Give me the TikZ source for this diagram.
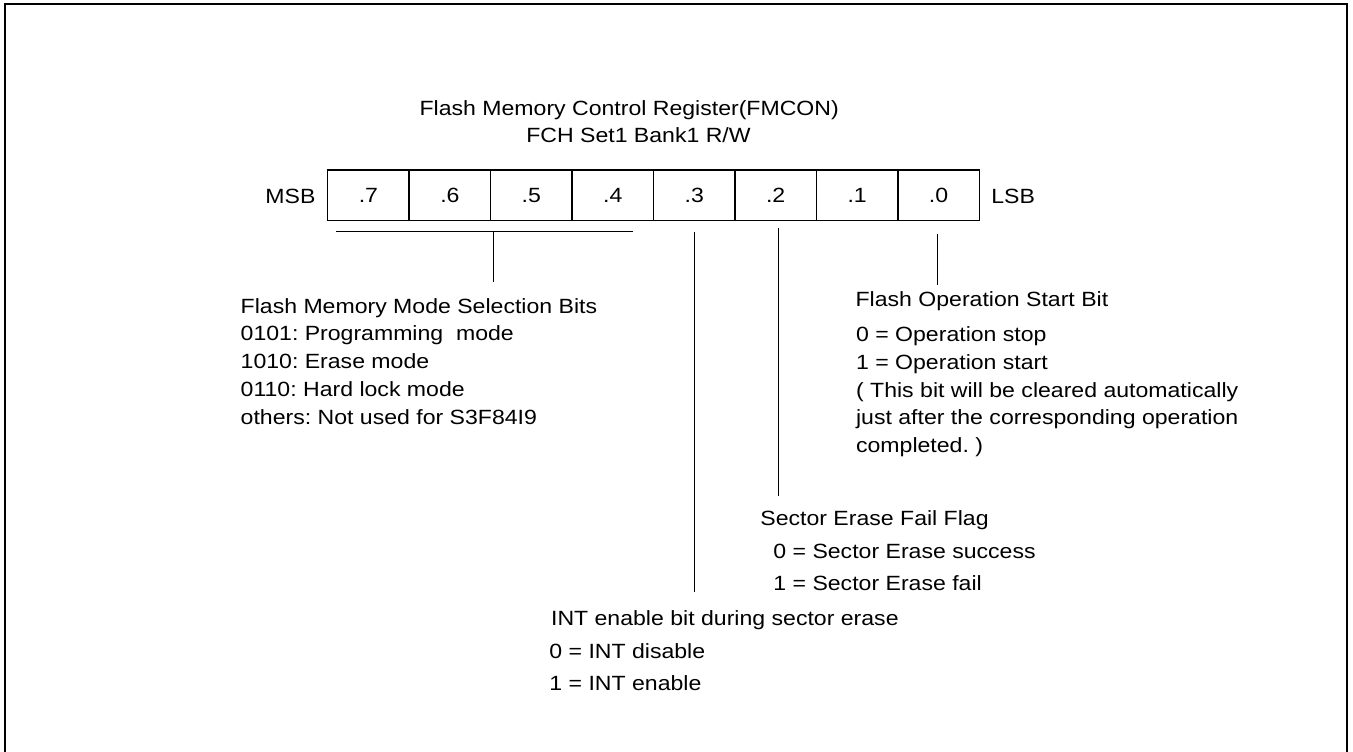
\documentclass[tikz,border=0pt]{standalone}
\usepackage{fontspec}
\setmainfont{Liberation Sans}[FakeStretch=1.12]
\usetikzlibrary{math}
\frenchspacing

\begin{document}
\begin{tikzpicture}[x=0.5pt,y=-0.5pt,
  every node/.style={font=\fontsize{10.3pt}{12pt}\selectfont, inner sep=0pt},
  txt/.style={anchor=base west},
  cell/.style={draw, line width=0.75pt, minimum width=40.725pt, minimum height=25.35pt},
  lead/.style={line width=0.75pt}]
\tikzmath{
\W=81.45;
\xL=327.7;
\yT=170;
\yB=220.7;
\dy=27.75;
}
\useasboundingbox (0,0) rectangle (1353,751);
%frame
\draw[line width=1pt] (5,4.3) rectangle (1347.2,770);

%title
\node[anchor=base] (title) at (629.2,115) {Flash Memory Control Register(FMCON)};
\node[anchor=base] (addr) at (638.5,142.7) {FCH Set1 Bank1 R/W};

%register
\foreach \k in {7,...,0}{
  \node[cell] (c\k) at ({\xL+\W*(7-\k)+\W/2},{(\yT+\yB)/2}) {.\k};
}
\node[txt] (msb) at (265,203.3) {MSB};
\node[txt] (lsb) at (991,203.3) {LSB};

%leads
\coordinate (m7) at (336,231.7);
\coordinate (m4) at (632.7,231.7);
\coordinate (mTop) at (493.5,231.7);
\coordinate (mEnd) at (493.5,281.7);
\draw[lead] (m7) -- (m4);
\draw[lead] (mTop) -- (mEnd);
\coordinate (i3Top) at (694.3,231.7);
\coordinate (i3End) at (694.3,591.7);
\draw[lead] (i3Top) -- (i3End);
\coordinate (s2Top) at (778.7,228.3);
\coordinate (s2End) at (778.7,496);
\draw[lead] (s2Top) -- (s2End);
\coordinate (f0Top) at (937.7,234);
\coordinate (f0End) at (937.7,285);
\draw[lead] (f0Top) -- (f0End);

%mode bits
\node[txt] (modeHd) at (240.3,313) {Flash Memory Mode Selection Bits};
\foreach \t [count=\i] in {{0101: Programming\ \ mode},{1010: Erase mode},{0110: Hard lock mode},{others: Not used for S3F84I9}}
  \node[txt] (mode\i) at (240.3,{313+\dy*\i}) {\t};

%start bit
\node[txt] (startHd) at (855.2,306.7) {Flash Operation Start Bit};
\foreach \t [count=\i from 0] in {{0 = Operation stop},{1 = Operation start},{( This bit will be cleared automatically},{just after the corresponding operation},{completed. )}}
  \node[txt] (start\i) at (855.7,{341.7+\dy*\i}) {\t};

%erase fail flag
\node[txt] (failHd) at (760,525) {Sector Erase Fail Flag};
\node[txt] (fail0) at (773,558.3) {0 = Sector Erase success};
\node[txt] (fail1) at (773,590) {1 = Sector Erase fail};

%int enable
\node[txt] (intHd) at (550.7,625) {INT enable bit during sector erase};
\node[txt] (int0) at (549,658.3) {0 = INT disable};
\node[txt] (int1) at (549,690) {1 = INT enable};

\end{tikzpicture}
\end{document}
